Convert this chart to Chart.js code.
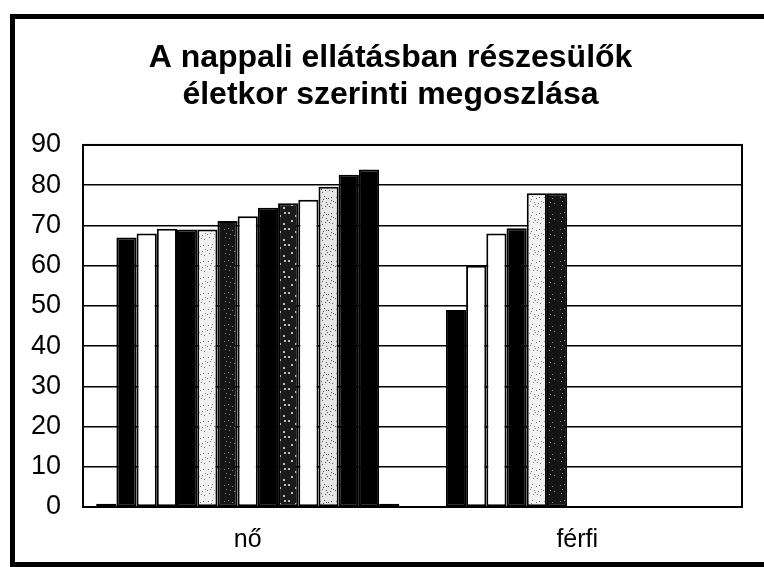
<!DOCTYPE html>
<html><head><meta charset="utf-8">
<script src="https://cdn.jsdelivr.net/npm/chart.js@4.4.0/dist/chart.umd.min.js"></script>
<style>
html,body{margin:0;padding:0;background:#fff;overflow:hidden;width:764px;height:567px;}
#frame{position:absolute;left:10px;top:14px;width:760px;height:543px;border-left:5px solid #000;border-top:5px solid #000;border-bottom:5px solid #000;}
#wrap{position:absolute;left:0;top:0;width:749px;height:543px;}
</style></head><body>
<div id="frame"><div id="wrap"><canvas id="c" width="749" height="543"></canvas></div></div>
<script>
// ---- data ----
const categories = ['nő', 'férfi'];
const seriesNames = ['1. adatsor','2. adatsor','3. adatsor','4. adatsor','5. adatsor','6. adatsor','7. adatsor','8. adatsor','9. adatsor','10. adatsor','11. adatsor','12. adatsor','13. adatsor','14. adatsor','15. adatsor'];
const noValues    = [0.8, 67, 68, 69.2, 69, 69, 71.1, 72.3, 74.4, 75.5, 76.4, 79.6, 82.6, 83.9, 0.8];
const ferfiValues = [null, 49, 60, 68, 69.3, 78, 78, null, null, null, null, null, null, null, null];
const yTickValues = [0, 10, 20, 30, 40, 50, 60, 70, 80, 90];
const fillKinds   = ['white','black','white','white','black','light','dark','white','black','mottled','white','light2','black','black','white'];

// ---- fill patterns (fixed dot positions) ----
const dots = [[1,2],[5,1],[9,3],[3,6],[7,7],[11,8],[2,10],[6,11],[10,11],[4,4],[8,9],[0,7],[12,2],[13,12],[14,6]];
function makePattern(bg, fg, size, list) {
  const cv = document.createElement('canvas');
  cv.width = 16; cv.height = 16;
  const x = cv.getContext('2d');
  x.fillStyle = bg; x.fillRect(0, 0, 16, 16);
  x.fillStyle = fg;
  list.forEach(p => x.fillRect(p[0], p[1], size, size));
  return document.getElementById('c').getContext('2d').createPattern(cv, 'repeat');
}
const fills = {
  white: '#ffffff',
  black: '#000000',
  light: makePattern('#f2f2f2', '#7a7a7a', 1, dots),
  light2: makePattern('#e6e6e6', '#555555', 1, dots.concat([[3,13],[12,5],[7,3]])),
  dark: makePattern('#151515', '#8a8a8a', 1, dots.slice(0, 8)),
  mottled: makePattern('#1a1a1a', '#bdbdbd', 2, [[1,1],[8,4],[4,9],[12,12],[13,1]])
};

const datasets = seriesNames.map((name, i) => ({
  label: name,
  data: [noValues[i], ferfiValues[i]],
  backgroundColor: fills[fillKinds[i]],
  borderColor: '#000',
  borderWidth: 2,
  borderSkipped: false,
  categoryPercentage: 0.92,
  barPercentage: 1.0
}));

const FONT = "'Liberation Sans', Arial, sans-serif";

const plotBorder = {
  id: 'plotBorder',
  afterDraw(chart) {
    const a = chart.chartArea, ctx = chart.ctx;
    ctx.save();
    ctx.strokeStyle = '#000';
    ctx.lineWidth = 2;
    ctx.strokeRect(a.left, a.top, a.right - a.left, a.bottom - a.top);
    ctx.restore();
  }
};
// centre the title a little to the right, as in the original
const titleShift = {
  id: 'titleShift',
  afterLayout(chart) { if (chart.titleBlock) { chart.titleBlock.left += 24; } }
};

new Chart(document.getElementById('c'), {
  type: 'bar',
  data: { labels: categories, datasets },
  plugins: [plotBorder, titleShift],
  options: {
    responsive: false,
    animation: false,
    layout: { padding: { left: 0, right: 22, top: 0, bottom: 8 } },
    plugins: {
      legend: { display: false },
      tooltip: { enabled: false },
      title: {
        display: true,
        text: ['A nappali ellátásban részesülők', 'életkor szerinti megoszlása'],
        color: '#000',
        font: { family: FONT, size: 32, weight: 'bold', lineHeight: 1.14 },
        padding: { top: 21, bottom: 32 }
      }
    },
    scales: {
      x: {
        grid: { display: false, drawTicks: false },
        border: { display: true, color: '#000', width: 2 },
        ticks: { color: '#000', font: { family: FONT, size: 25 }, padding: 18 },
        afterFit(scale) { scale.height = 47; }
      },
      y: {
        min: 0, max: 90,
        afterBuildTicks(scale) { scale.ticks = yTickValues.map(v => ({ value: v })); },
        grid: { color: '#000', lineWidth: 1.5, drawTicks: false },
        border: { display: true, color: '#000', width: 2 },
        ticks: { color: '#000', font: { family: FONT, size: 27 }, padding: 22 },
        afterFit(scale) { scale.width = 68; }
      }
    }
  }
});
</script>
</body></html>
